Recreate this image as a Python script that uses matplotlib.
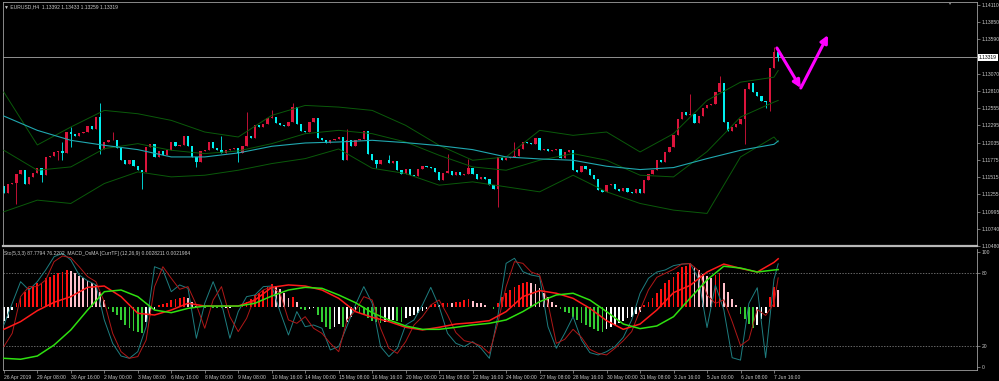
import matplotlib
matplotlib.use("Agg")
import matplotlib.pyplot as plt
import matplotlib.transforms as mtransforms
import numpy as np

plt.rcParams["font.family"] = ["Liberation Sans", "DejaVu Sans"]

# ---- price data (EURUSD H4, 26 Apr - 7 Jun 2019), open = previous close ----
OPEN_FIRST = 1.11380
CLOSES = [
    1.11270, 1.11410, 1.11430, 1.11570, 1.11620, 1.11420, 1.11520, 1.11580, 1.11660, 1.11545,
    1.11820, 1.11835, 1.11895, 1.11910, 1.11880, 1.12195, 1.12160, 1.12130, 1.12180, 1.12195,
    1.12285, 1.12245, 1.12420, 1.11945, 1.12045, 1.12070, 1.12080, 1.11960, 1.11770, 1.11710,
    1.11770, 1.11680, 1.11620, 1.11595, 1.11970, 1.12020, 1.11820, 1.11910, 1.11845, 1.11920,
    1.12045, 1.11980, 1.11995, 1.12130, 1.11980, 1.11820, 1.11745, 1.11910, 1.11930, 1.12045,
    1.11960, 1.11920, 1.11880, 1.11930, 1.11945, 1.11960, 1.11880, 1.11980, 1.12130, 1.12110,
    1.12295, 1.12270, 1.12310, 1.12410, 1.12420, 1.12330, 1.12295, 1.12285, 1.12345, 1.12570,
    1.12320, 1.12210, 1.12195, 1.12345, 1.12410, 1.12110, 1.12080, 1.12030, 1.12070, 1.12095,
    1.12120, 1.11780, 1.12070, 1.11980, 1.12070, 1.12095, 1.12210, 1.11870, 1.11770, 1.11720,
    1.11770, 1.11780, 1.11730, 1.11760, 1.11630, 1.11570, 1.11645, 1.11545, 1.11530, 1.11645,
    1.11680, 1.11670, 1.11660, 1.11595, 1.11470, 1.11580, 1.11605, 1.11545, 1.11595, 1.11545,
    1.11570, 1.11660, 1.11570, 1.11495, 1.11520, 1.11495, 1.11395, 1.11345, 1.11820, 1.11780,
    1.11810, 1.11820, 1.11830, 1.11945, 1.12045, 1.12030, 1.12010, 1.12110, 1.11920, 1.11945,
    1.11910, 1.11930, 1.11945, 1.11810, 1.11895, 1.11920, 1.11630, 1.11595, 1.11680, 1.11645,
    1.11545, 1.11495, 1.11330, 1.11295, 1.11395, 1.11410, 1.11345, 1.11310, 1.11360, 1.11295,
    1.11280, 1.11345, 1.11280, 1.11480, 1.11560, 1.11620, 1.11770, 1.11745, 1.11895, 1.11970,
    1.12145, 1.12395, 1.12495, 1.12445, 1.12470, 1.12330, 1.12430, 1.12560, 1.12595, 1.12620,
    1.12795, 1.12930, 1.12345, 1.12210, 1.12270, 1.12310, 1.12395, 1.12845, 1.12930, 1.12795,
    1.12730, 1.12660, 1.12645, 1.13160, 1.13392, 1.13319,
]
# visible wicks (bar index -> price)
HIGH_BARS = [14, 16, 23, 26, 52, 58, 64, 69, 82, 92, 106, 111, 122, 164, 171, 184, 185]
HIGH_VALUES = [1.12045, 1.12270, 1.12635, 1.12195, 1.12130, 1.12495, 1.12530, 1.12630, 1.12245,
               1.11845, 1.11870, 1.11795, 1.12045, 1.12770, 1.13045, 1.13470, 1.13433]
LOW_BARS = [3, 9, 13, 14, 16, 23, 33, 46, 56, 82, 89, 118, 177, 182, 183, 185]
LOW_VALUES = [1.11110, 1.11445, 1.11770, 1.11770, 1.11970, 1.11860, 1.11345, 1.11670, 1.11745,
              1.11770, 1.11660, 1.11070, 1.12010, 1.12560, 1.12510, 1.13259]
LAST_PRICE = 1.13319

# Bollinger bands + slow MA, read every 8 bars
BAND_BARS = list(range(0, 185, 8)) + [185]
BB_UPPER = [1.12795, 1.12000, 1.12270, 1.12520, 1.12470, 1.12370, 1.12195, 1.12120, 1.12445,
            1.12595, 1.12570, 1.12520, 1.12295, 1.11995, 1.11770, 1.11820, 1.12220, 1.12145,
            1.12195, 1.11895, 1.12170, 1.12670, 1.12945, 1.13020, 1.13120]
BB_MIDDLE = [1.11920, 1.11620, 1.11670, 1.11945, 1.12020, 1.11920, 1.11870, 1.11910, 1.12020,
             1.12170, 1.12220, 1.12170, 1.12045, 1.11845, 1.11670, 1.11620, 1.11770, 1.11870,
             1.11770, 1.11545, 1.11520, 1.11900, 1.12420, 1.12645, 1.12670]
BB_LOWER = [1.10995, 1.11170, 1.11120, 1.11420, 1.11595, 1.11520, 1.11545, 1.11620, 1.11720,
            1.11795, 1.11940, 1.11650, 1.11570, 1.11395, 1.11445, 1.11370, 1.11295, 1.11545,
            1.11295, 1.11120, 1.11020, 1.10970, 1.11820, 1.12120, 1.12045]
SLOW_MA = [1.12435, 1.12220, 1.12070, 1.11995, 1.11930, 1.11820, 1.11820, 1.11880, 1.11980,
           1.12030, 1.12045, 1.12070, 1.12035, 1.11990, 1.11930, 1.11820, 1.11790, 1.11770,
           1.11680, 1.11630, 1.11660, 1.11795, 1.11920, 1.12010, 1.12060]

# hand-drawn arrows (bar, price)
ARROW_BARS = [184.7, 190.4, 196.9]
ARROW_PRICES = [1.13459, 1.12857, 1.13654]

# ---- lower window (0-100 scale) ----
STOCH_BARS = list(range(0, 185, 2)) + [185]
STOCH_K = [
    37.1, 55.1, 73.0, 66.1, 73.0, 82.7, 93.7, 96.5, 91.0, 78.5,
    73.8, 70.3, 41.3, 21.9, 11.4, 9.5, 15.0, 35.7, 85.4, 82.7,
    64.7, 70.3, 67.5, 26.1, 55.1, 73.0, 55.1, 26.1, 48.2, 60.6,
    62.0, 68.9, 69.4, 48.2, 28.8, 48.2, 35.7, 37.1, 34.4, 16.4,
    19.2, 36.3, 53.7, 68.9, 55.1, 19.2, 10.9, 17.8, 37.1, 41.3,
    53.7, 68.3, 52.3, 30.2, 21.9, 19.2, 23.3, 17.8, 9.5, 44.0,
    88.2, 92.4, 81.3, 78.5, 77.2, 35.7, 17.8, 30.2, 44.0, 24.7,
    14.2, 12.3, 15.0, 19.2, 26.9, 41.3, 63.4, 75.8, 81.0, 82.7,
    86.3, 87.6, 88.0, 75.0, 35.0, 70.0, 50.0, 10.0, 8.0, 55.0,
    68.0, 10.0, 75.0, 87.8,
]
STOCH_D = [
    19.2, 30.2, 60.6, 68.9, 68.9, 74.4, 89.6, 94.3, 92.9, 85.4,
    77.2, 73.0, 56.4, 30.2, 15.0, 9.5, 10.9, 24.7, 68.9, 85.4,
    75.8, 66.7, 68.9, 53.7, 34.4, 57.8, 68.9, 44.0, 31.6, 42.6,
    60.6, 66.1, 68.9, 63.4, 41.3, 38.5, 44.0, 34.4, 30.2, 21.9,
    15.0, 41.3, 49.0, 60.6, 57.8, 34.4, 17.8, 13.6, 23.3, 37.1,
    44.0, 53.7, 57.8, 45.4, 30.8, 24.1, 22.5, 19.7, 13.6, 38.5,
    68.9, 89.6, 88.2, 81.0, 78.5, 55.1, 21.9, 25.2, 33.5, 26.9,
    16.9, 13.6, 12.3, 17.8, 24.1, 31.6, 49.5, 66.1, 76.6, 79.9,
    83.2, 87.6, 88.0, 82.0, 62.0, 55.0, 58.0, 40.0, 20.0, 25.0,
    50.0, 45.0, 55.0, 76.2,
]
MACD_BARS = list(range(0, 185, 4)) + [185]
MACD_MAIN = [
    33.5, 39.9, 49.0, 55.9, 60.6, 68.3, 69.4, 60.6, 46.8, 45.4,
    49.5, 55.1, 52.8, 52.8, 52.8, 57.8, 68.3, 70.3, 69.4, 66.1,
    59.2, 48.2, 43.5, 39.9, 35.2, 33.0, 35.2, 37.9, 39.0, 40.7,
    48.2, 60.6, 65.6, 63.4, 59.2, 50.9, 40.7, 33.5, 37.9, 49.5,
    63.9, 70.0, 81.0, 87.6, 84.0, 81.0, 89.0, 92.0,
]
MACD_SIGNAL = [
    9.5, 8.7, 11.4, 20.5, 33.0, 49.5, 64.7, 66.1, 60.6, 49.5,
    47.3, 50.9, 52.8, 52.8, 52.8, 55.1, 61.1, 66.1, 68.3, 67.5,
    62.0, 55.6, 47.3, 41.3, 36.3, 33.5, 33.5, 35.2, 37.1, 38.5,
    41.3, 48.2, 56.4, 62.0, 63.4, 57.8, 48.2, 37.9, 34.1, 36.3,
    44.0, 59.5, 74.4, 85.8, 84.3, 81.0, 82.7, 83.0,
]
OSMA_BASE = 52.3
OSMA = [
    -12.0, -9.0, -3.0, 2.8, 6.9, 12.4, 15.2, 16.6, 19.3, 19.9,
    23.5, 24.9, 26.2, 27.6, 29.0, 30.4, 29.8, 27.6, 25.4, 23.5,
    21.5, 19.3, 18.0, 12.4, 5.5, -2.2, -4.1, -6.9, -11.0, -15.2,
    -18.0, -19.9, -21.0, -21.5, -12.4, -6.9, -2.8, 1.4, 2.2, 3.3,
    5.5, 6.1, 6.9, 7.7, 6.9, 4.1, 0.6, -0.6, -1.0, -0.5,
    -0.8, -1.2, -1.5, -1.2, -0.8, -0.5, -0.6, 1.4, 4.1, 6.1,
    9.7, 11.6, 13.8, 16.6, 18.8, 17.1, 14.4, 11.6, 7.0, 8.3,
    4.1, -2.2, -2.8, -2.2, -1.4, -6.9, -12.4, -17.1, -18.8, -16.6,
    -14.4, -17.1, -12.4, -8.3, -4.1, -5.5, -6.9, -9.7, -11.6, -12.4,
    -13.3, -12.4, -11.6, -11.0, -11.6, -12.4, -9.7, -7.7, -6.9, -5.0,
    -3.3, -1.7, 1.4, 2.2, 1.4, 2.8, 3.3, 2.8, 3.9, 4.1,
    5.5, 6.6, 5.0, 3.3, 2.8, 1.4, -0.6, -1.7, 2.8, 8.3,
    11.0, 13.8, 16.0, 18.0, 19.9, 20.7, 19.3, 18.8, 15.2, 11.6,
    8.3, 4.1, 1.4, -2.2, -4.1, -5.5, -8.3, -11.0, -13.3, -15.2,
    -17.1, -18.8, -19.9, -20.7, -18.8, -17.1, -15.2, -13.8, -11.6, -9.7,
    -8.3, -6.1, -4.1, 1.4, 4.1, 6.9, 11.0, 14.4, 19.3, 22.1,
    24.9, 29.0, 33.1, 34.0, 36.0, 33.0, 30.0, 27.0, 25.0, 24.0,
    26.0, 28.0, 20.0, 12.0, 6.0, 1.0, -6.0, -10.0, -14.0, -18.0,
    -15.0, -10.0, -5.0, 8.0, 16.0, 14.0,
]

# ---- axis labels ----
PRICE_TICKS = [1.14110, 1.13850, 1.13590, 1.13070, 1.12810, 1.12555, 1.12295, 1.12035,
               1.11775, 1.11515, 1.11255, 1.10995, 1.10740, 1.10480]
TIME_BARS = list(range(0, 185, 8))
TIME_LABELS = ["26 Apr 2019", "29 Apr 08:00", "30 Apr 16:00", "2 May 00:00", "3 May 08:00",
               "6 May 16:00", "8 May 00:00", "9 May 08:00", "10 May 16:00", "14 May 00:00",
               "15 May 08:00", "16 May 16:00", "20 May 00:00", "21 May 08:00", "22 May 16:00",
               "24 May 00:00", "27 May 08:00", "28 May 16:00", "30 May 00:00", "31 May 08:00",
               "3 Jun 16:00", "5 Jun 00:00", "6 Jun 08:00", "7 Jun 16:00"]
SUB_TICKS = [97.4, 80, 20, 2.6]
SUB_LABELS = ["100", "80", "20", "0"]

BULL, BEAR = "#DC143C", "#00F0F0"
TXT = "#C8C8C8"
FS = 3.6

W, H = 999, 381
fig = plt.figure(figsize=(W / 100, H / 100), dpi=100, facecolor="black")
ax = fig.add_axes([3 / W, (H - 246) / H, 974 / W, 244 / H], facecolor="black")
sub = fig.add_axes([3 / W, 11 / H, 974 / W, 121.5 / H], facecolor="black")

# candles
x = np.arange(len(CLOSES))
c = np.array(CLOSES)
o = np.concatenate([[OPEN_FIRST], c[:-1]])
body_hi = np.maximum(o, c)
body_lo = np.minimum(o, c)
wick_hi = body_hi.copy()
wick_lo = body_lo.copy()
wick_hi[HIGH_BARS] = np.maximum(wick_hi[HIGH_BARS], HIGH_VALUES)
wick_lo[LOW_BARS] = np.minimum(wick_lo[LOW_BARS], LOW_VALUES)
cols = np.where(c >= o, BULL, BEAR)
ax.vlines(x, wick_lo, wick_hi, colors=cols, lw=0.6, zorder=2)
ax.bar(x, np.maximum(body_hi - body_lo, 0.00003), bottom=body_lo, width=0.55,
       color=cols, lw=0, zorder=2)

for vals in (BB_UPPER, BB_MIDDLE, BB_LOWER):
    ax.plot(BAND_BARS, vals, color="#0A5A0A", lw=0.7, zorder=3)
ax.plot(BAND_BARS, SLOW_MA, color="#20A8B0", lw=0.8, zorder=3)
ax.axhline(LAST_PRICE, color="#A8A8A8", lw=0.6, zorder=1)

# magenta arrows
for k in range(2):
    ax.annotate("", xy=(ARROW_BARS[k + 1], ARROW_PRICES[k + 1]),
                xytext=(ARROW_BARS[k], ARROW_PRICES[k]),
                arrowprops=dict(arrowstyle="-|>", color="#FF00FF", lw=2.2,
                                mutation_scale=11, shrinkA=0, shrinkB=0), zorder=5)

ax.set_xlim(-0.2, 232.5)
ax.set_ylim(1.10480, 1.14151)
ax.yaxis.tick_right()
ax.set_yticks(PRICE_TICKS)
ax.set_yticklabels([f"{p:.5f}" for p in PRICE_TICKS])
ax.set_xticks([])
ax.tick_params(axis="y", colors="#A0A0A0", labelcolor=TXT, labelsize=FS, length=2,
               width=0.5, pad=1.5)
for s in ax.spines.values():
    s.set_color("#A0A0A0")
    s.set_linewidth(0.6)
ax.spines["bottom"].set_color("#B8B8B8")
ax.spines["bottom"].set_linewidth(1.6)
ax.text(1.002, LAST_PRICE, f"{LAST_PRICE:.5f}", fontsize=FS, color="black", va="center",
        ha="left", transform=mtransforms.blended_transform_factory(ax.transAxes, ax.transData),
        bbox=dict(boxstyle="square,pad=0.15", fc="white", ec="none"), zorder=6)

# lower window: MACD OsMA histogram + Stochastic + MACD lines
h = np.array(OSMA)
prev = np.concatenate([[h[0] - 1], h[:-1]])
hcols = np.where(h >= 0, np.where(h >= prev, "#FF1010", "#FFC0CB"),
                 np.where(h <= prev, "#33CC33", "#FFFFFF"))
sub.bar(x, h, bottom=OSMA_BASE, width=0.42, color=hcols, lw=0, zorder=2)
sub.plot(STOCH_BARS, STOCH_K, color="#1E7E80", lw=0.7, zorder=3)
sub.plot(STOCH_BARS, STOCH_D, color="#B01818", lw=0.7, zorder=3)
sub.plot(MACD_BARS, MACD_MAIN, color="#FF1A1A", lw=1.1, zorder=4)
sub.plot(MACD_BARS, MACD_SIGNAL, color="#2EE010", lw=1.1, zorder=4)
for lvl in (80, 20):
    sub.axhline(lvl, color="#909090", lw=0.5, ls=(0, (2, 2)), zorder=1)

sub.set_xlim(-0.2, 232.5)
sub.set_ylim(-0.2, 100.5)
sub.yaxis.tick_right()
sub.set_yticks(SUB_TICKS)
sub.set_yticklabels(SUB_LABELS)
sub.set_xticks(TIME_BARS)
sub.set_xticklabels(TIME_LABELS)
for lab in sub.get_xticklabels():
    lab.set_ha("left")
sub.tick_params(axis="both", colors="#A0A0A0", labelcolor=TXT, labelsize=FS, length=2,
                width=0.5, pad=1.5)
for s in sub.spines.values():
    s.set_color("#A0A0A0")
    s.set_linewidth(0.6)
sub.spines["top"].set_visible(False)

fig.text(4 / W, 1 - 7 / H, "\u25bc EURUSD,H4  1.13392 1.13433 1.13259 1.13319",
         fontsize=FS, color=TXT, va="center", ha="left")
fig.text(4 / W, 1 - 254 / H,
         "Sto(5,3,3) 87.7794 76.2202  MACD_OsMA [CurrTF] (12,26,9) 0.0028211 0.0021984",
         fontsize=FS, color=TXT, va="center", ha="left")
fig.text(949 / W, 1 - 4 / H, "\u25bc", fontsize=3, color="#909090", ha="center", va="center")

fig.savefig("out.png", dpi=100, facecolor="black")
